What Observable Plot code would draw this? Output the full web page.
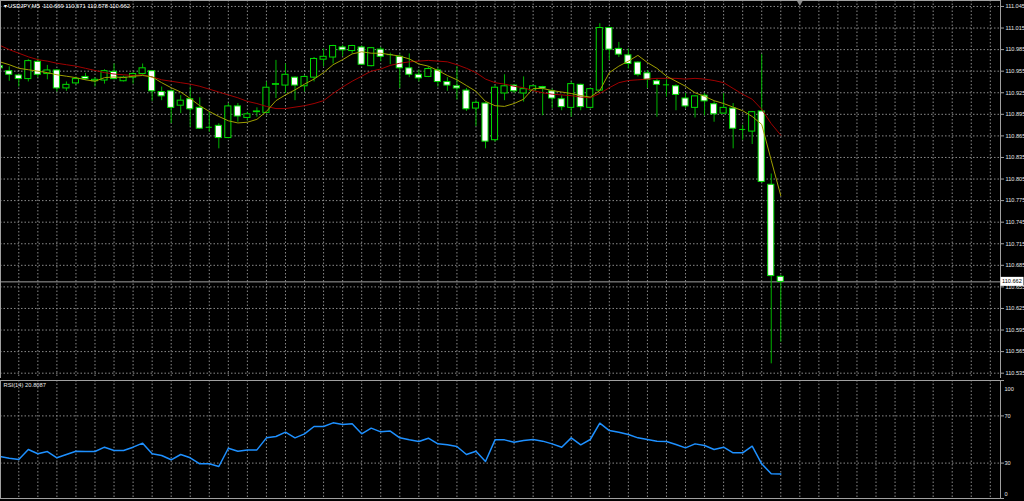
<!DOCTYPE html>
<html><head><meta charset="utf-8">
<script src="https://cdn.jsdelivr.net/npm/d3@7"></script>
<script src="https://cdn.jsdelivr.net/npm/@observablehq/plot@0.6"></script>
<style>
html,body{margin:0;padding:0;background:#000;}
#chart{position:relative;width:1024px;height:501px;overflow:hidden;background:#000;}
#chart svg{display:block;}
</style></head><body><div id="chart"></div>
<script>
const symbol = "USDJPY", timeframe = "M5";
const rsiPeriod = 14;

const open = [110.962,110.955,110.949,110.944,110.968,110.951,110.956,110.931,110.938,110.947,
110.941,110.942,110.954,110.941,110.946,110.951,110.955,110.926,110.927,110.907,
110.916,110.904,110.877,110.879,110.862,110.906,110.890,110.898,110.897,110.936,
110.935,110.946,110.934,110.946,110.971,110.974,110.988,110.983,110.988,110.962,
110.985,110.978,110.975,110.959,110.950,110.947,110.956,110.940,110.934,110.928,
110.903,110.910,110.859,110.924,110.935,110.924,110.928,110.933,110.927,110.916,
110.904,110.936,110.904,110.928,111.015,110.986,110.977,110.967,110.952,110.941,
110.936,110.934,110.917,110.904,110.921,110.909,110.896,110.903,110.874,110.871,
110.899,110.797,110.669];
const high = [110.964,110.961,110.950,110.971,110.972,110.963,110.957,110.940,110.947,110.952,
110.946,110.957,110.965,110.948,110.953,110.965,110.956,110.933,110.929,110.921,
110.933,110.918,110.898,110.882,110.910,110.910,110.898,110.904,110.940,110.970,
110.965,110.947,110.949,110.974,110.986,110.991,110.991,110.991,110.990,110.988,
110.988,110.980,110.978,110.979,110.957,110.961,110.959,110.946,110.961,110.931,
110.914,110.911,110.935,110.950,110.936,110.947,110.935,110.934,110.930,110.921,
110.940,110.937,110.931,111.021,111.016,110.995,110.986,110.968,110.956,110.944,
110.943,110.936,110.924,110.921,110.924,110.913,110.924,110.910,110.880,110.899,
110.978,110.812,110.671];
const low = [110.944,110.941,110.933,110.940,110.946,110.943,110.926,110.927,110.936,110.942,
110.933,110.937,110.943,110.940,110.937,110.949,110.913,110.914,110.882,110.896,
110.877,110.874,110.870,110.847,110.861,110.884,110.886,110.891,110.896,110.917,
110.924,110.914,110.926,110.940,110.961,110.965,110.975,110.979,110.963,110.961,
110.968,110.964,110.931,110.946,110.940,110.946,110.933,110.927,110.915,110.899,
110.878,110.847,110.856,110.914,110.924,110.912,110.927,110.893,110.903,110.900,
110.891,110.900,110.903,110.927,110.970,110.974,110.958,110.947,110.931,110.891,
110.919,110.900,110.903,110.890,110.893,110.884,110.895,110.847,110.859,110.853,
110.799,110.548,110.578];
const close = [110.959,110.950,110.944,110.969,110.950,110.956,110.931,110.936,110.944,110.944,
110.943,110.955,110.944,110.946,110.951,110.959,110.927,110.920,110.904,110.914,
110.902,110.875,110.877,110.862,110.906,110.892,110.895,110.899,110.932,110.937,
110.950,110.935,110.947,110.972,110.975,110.990,110.984,110.990,110.964,110.987,
110.975,110.978,110.959,110.950,110.945,110.958,110.940,110.935,110.931,110.902,
110.911,110.857,110.932,110.934,110.927,110.930,110.934,110.931,110.917,110.905,
110.937,110.905,110.930,111.015,110.985,110.978,110.965,110.950,110.943,110.936,
110.936,110.922,110.906,110.920,110.913,110.895,110.904,110.875,110.874,110.898,
110.801,110.670,110.662];
const maSlow = [110.991,110.985,110.980,110.975,110.971,110.969,110.966,110.964,110.962,110.959,
110.956,110.953,110.951,110.950,110.949,110.950,110.947,110.943,110.941,110.939,
110.937,110.934,110.930,110.926,110.922,110.918,110.913,110.910,110.906,110.903,
110.903,110.905,110.907,110.910,110.914,110.924,110.933,110.941,110.948,110.955,
110.958,110.963,110.966,110.968,110.969,110.970,110.969,110.968,110.964,110.959,
110.953,110.944,110.939,110.937,110.934,110.932,110.928,110.925,110.923,110.922,
110.921,110.919,110.918,110.924,110.932,110.939,110.942,110.943,110.944,110.945,
110.945,110.945,110.944,110.945,110.944,110.942,110.939,110.931,110.923,110.916,
110.902,110.882,110.866];
const maFast = [110.968,110.964,110.959,110.957,110.955,110.953,110.950,110.948,110.946,110.943,
110.941,110.946,110.947,110.946,110.948,110.949,110.947,110.939,110.932,110.926,
110.917,110.907,110.899,110.892,110.886,110.883,110.884,110.888,110.899,110.914,
110.922,110.929,110.937,110.944,110.953,110.964,110.971,110.979,110.982,110.980,
110.980,110.978,110.976,110.972,110.965,110.962,110.956,110.949,110.943,110.935,
110.927,110.913,110.907,110.906,110.910,110.916,110.931,110.931,110.928,110.926,
110.924,110.921,110.919,110.928,110.953,110.962,110.969,110.977,110.967,110.959,
110.948,110.941,110.934,110.925,110.920,110.914,110.910,110.905,110.900,110.892,
110.881,110.831,110.782];
const rsi = [35.6,34.2,33.0,41.5,37.9,39.8,34.5,37.3,40.1,39.8,
39.8,43.5,40.7,40.7,43.5,46.9,37.9,36.4,32.8,37.3,
34.5,29.4,29.4,27.1,42.6,40.1,41.2,41.2,51.4,52.5,
56.2,51.4,54.8,61.0,61.0,64.1,62.7,63.3,54.8,59.6,
56.5,57.1,51.4,49.7,48.3,51.1,46.3,45.5,44.1,37.3,
40.1,31.4,49.7,49.7,47.7,49.2,50.0,48.6,46.3,43.5,
51.4,45.5,50.0,63.8,57.6,56.2,54.2,51.4,50.0,48.6,
48.3,45.8,42.9,46.3,44.9,41.5,43.5,38.7,38.7,44.3,
29.4,20.9,20.8087];

const priceTicks = [111.045,111.015,110.985,110.955,110.925,110.895,110.865,110.835,110.805,
110.775,110.745,110.715,110.685,110.655,110.625,110.595,110.565,110.535];
const rsiTicks = [100,70,30,0];
const rsiLevels = [70,30];

const bars = open.map((o,i)=>({i, open:o, high:high[i], low:low[i], close:close[i],
  maFast:maFast[i], maSlow:maSlow[i], rsi:rsi[i]}));
const last = bars[bars.length-1];

const xDomain = [0.079, 105.07];
const gridX = d3.range(2, 105, 2);
const font = "'Liberation Sans', Arial, sans-serif";
const grid = {stroke:"#8a8a8a", strokeDasharray:"1.5,2", strokeWidth:1};
const wick = "#00b400", edge = "#00dc00";
const half = 0.32;

const main = Plot.plot({
  width:1024, height:378, marginLeft:0, marginRight:24, marginTop:0, marginBottom:0,
  style:{background:"#000", color:"#e8e8e8", fontFamily:font, fontSize:"5.6px"},
  x:{domain:xDomain, axis:null},
  y:{domain:[110.5276, 111.0533], axis:null},
  marks:[
    Plot.ruleX(gridX, grid),
    Plot.ruleY(priceTicks, grid),
    Plot.ruleY([last.close], {stroke:"#a0a0a0"}),
    Plot.ruleX(bars, {x:"i", y1:"low", y2:"high", stroke:wick}),
    Plot.rect(bars, {x1:d=>d.i-half, x2:d=>d.i+half, y1:"open", y2:"close",
      fill:d=>d.close<d.open?"#ffffff":"#000000", stroke:edge}),
    Plot.ruleY(bars.filter(d=>d.open===d.close), {y:"close", x1:d=>d.i-half, x2:d=>d.i+half, stroke:edge}),
    Plot.line(bars, {x:"i", y:"maSlow", stroke:"#a00000", strokeWidth:1}),
    Plot.line(bars, {x:"i", y:"maFast", stroke:"#a0a000", strokeWidth:1}),
    Plot.dot([last.i+2], {x:d=>d, frameAnchor:"top", dy:2, symbol:"triangle", rotate:180, r:2.2, fill:"#8a8a8a"}),
    Plot.frame({stroke:"#a0a0a0"}),
    Plot.axisY(priceTicks, {anchor:"right", label:null, tickSize:3, tickPadding:2, tickFormat:d=>d.toFixed(3),
      stroke:"#a0a0a0", fill:"#e8e8e8"}),
    Plot.text([`\u25BE ${symbol},${timeframe}  ${last.open.toFixed(3)} ${last.high.toFixed(3)} ${last.low.toFixed(3)} ${last.close.toFixed(3)}`],
      {frameAnchor:"top-left", dx:3, dy:3, lineAnchor:"top", fill:"#ffffff", fontSize:5.8})
  ]
});

const rsiPlot = Plot.plot({
  width:1024, height:123, marginLeft:0, marginRight:24, marginTop:2, marginBottom:3,
  style:{background:"#000", color:"#e8e8e8", fontFamily:font, fontSize:"5.6px"},
  x:{domain:xDomain, axis:null},
  y:{domain:[0,100], axis:null},
  marks:[
    Plot.ruleX(gridX, grid),
    Plot.ruleY(rsiLevels, grid),
    Plot.line(bars, {x:"i", y:"rsi", stroke:"#1e90ff", strokeWidth:1.5}),
    Plot.frame({stroke:"#a0a0a0"}),
    Plot.axisY(rsiTicks, {anchor:"right", label:null, tickSize:3, tickFormat:()=>"", stroke:"#a0a0a0"}),
    Plot.text(rsiTicks.filter(v=>v!==100 && v!==0), {y:d=>d, text:d=>String(d), frameAnchor:"right", dx:4, textAnchor:"start", fill:"#e8e8e8"}),
    Plot.text(rsiTicks.filter(v=>v===100), {y:d=>d, text:d=>String(d), frameAnchor:"right", dx:4, dy:9, textAnchor:"start", fill:"#e8e8e8"}),
    Plot.text(rsiTicks.filter(v=>v===0), {y:d=>d, text:d=>String(d), frameAnchor:"right", dx:4, dy:-4, textAnchor:"start", fill:"#e8e8e8"}),
    Plot.text([`RSI(${rsiPeriod}) ${last.rsi.toFixed(4)}`], {frameAnchor:"top-left", dx:3, dy:2, lineAnchor:"top", fill:"#e8e8e8", fontSize:5.8})
  ]
});

const chart = document.getElementById("chart");
chart.appendChild(main);
chart.appendChild(rsiPlot);

// current price label box on the price axis
const yPix = main.scale("y").apply(last.close);
const svg = d3.select(main);
svg.append("rect").attr("x", 1000.5).attr("y", yPix-4.5).attr("width", 23).attr("height", 9).attr("fill", "#ffffff");
svg.append("text").attr("x", 1002).attr("y", yPix).attr("dy", "0.35em").attr("text-anchor", "start")
  .attr("fill", "#000").attr("font-size", 5.6).attr("font-family", font).text(last.close.toFixed(3));
</script></body></html>
